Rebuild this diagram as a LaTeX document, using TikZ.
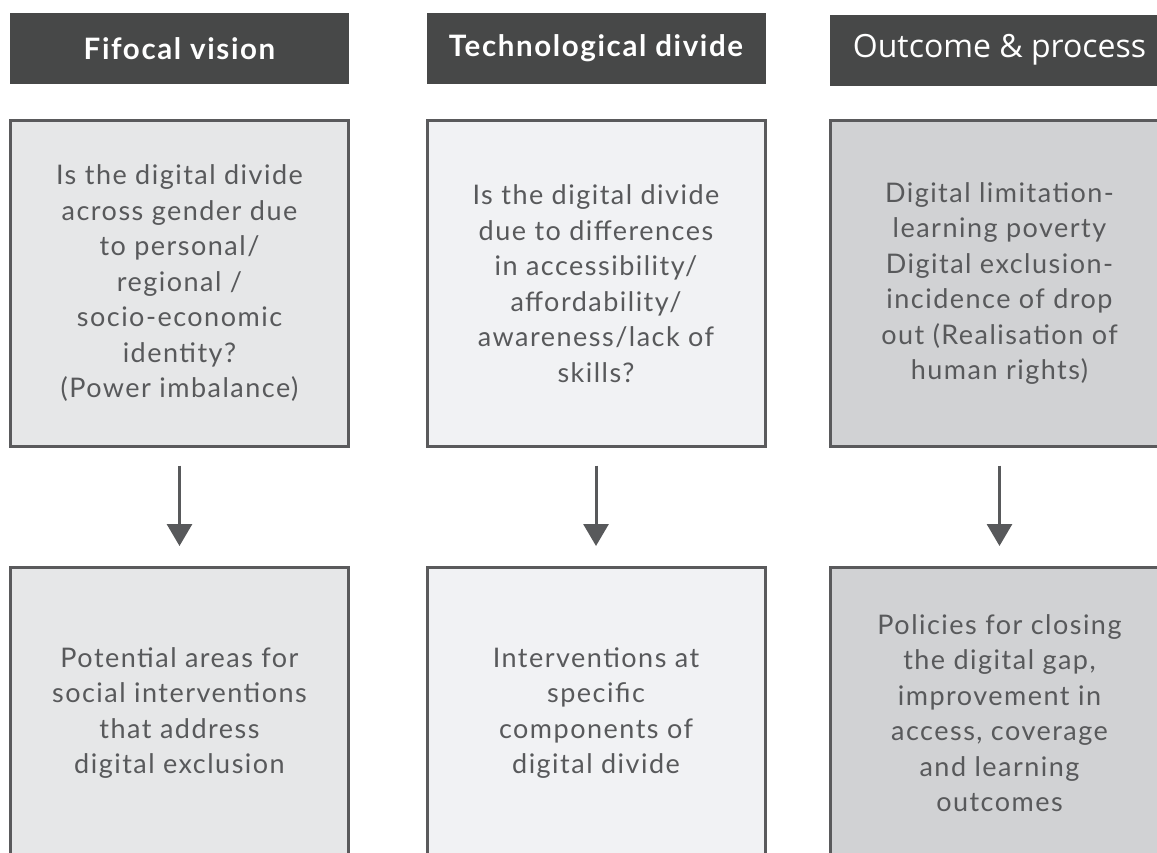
\documentclass[tikz,border=0pt]{standalone}
\usepackage{fontspec}
\setmainfont{Lato}[LetterSpace=5.5]
\newfontfamily\outfont{Open Sans}
\usetikzlibrary{arrows.meta}
\definecolor{headgray}{HTML}{474848}
\definecolor{boxline}{HTML}{5A5A5C}
\definecolor{bodytext}{HTML}{58595B}
\definecolor{fillA}{HTML}{E6E7E8}
\definecolor{fillB}{HTML}{F1F2F4}
\definecolor{fillC}{HTML}{D1D2D4}
\tikzstyle{headbox} = [fill=headgray, text=white, minimum width=339pt,
    minimum height=71pt, inner sep=0pt, font=\fontsize{29.5}{34}\selectfont\bfseries]
\tikzstyle{infobox} = [draw=boxline, line width=3pt, minimum width=338pt,
    inner sep=0pt, align=center, text=bodytext, font=\fontsize{27}{35.5}\selectfont]
\tikzstyle{flowarrow} = [draw=bodytext, line width=3pt,
    -{Triangle[width=25pt,length=22pt]}, shorten <=17.5pt, shorten >=19.5pt]

\begin{document}
\begin{tikzpicture}[x=1pt, y=-1pt]
    \useasboundingbox (0,0) rectangle (1157,852);
    \clip (0,0) rectangle (1157,852);
    % column titles
    \node[headbox] (hFif) at (179.5,48.5) {Fifocal vision};
    \node[headbox] (hTech) at (596,48.5) {Technological divide};
    \node[headbox, font=\outfont\fontsize{32}{36}\selectfont] (hOut) at (999.5,50) {Outcome \& process};
    % questions
    \node[infobox, fill=fillA, minimum height=326pt] (qFif) at (179.5,283.5) {Is the digital divide\\across gender due\\to personal/\\regional /\\socio-economic\\identity?\\(Power imbalance)};
    \node[infobox, fill=fillB, minimum height=326pt] (qTech) at (596,283.5) {Is the digital divide\\due to differences\\in accessibility/\\affordability/\\awareness/lack of\\skills?};
    \node[infobox, fill=fillC, minimum height=326pt] (qOut) at (999.5,283.5) {Digital limitation-\\learning poverty\\Digital exclusion-\\incidence of drop\\out (Realisation of\\human rights)};
    % answers (lower edge runs past the page)
    \node[infobox, fill=fillA, minimum height=292pt, anchor=north] (aFif) at (179.5,565.5) {Potential areas for\\social interventions\\that address\\digital exclusion};
    \node[infobox, fill=fillB, minimum height=292pt, anchor=north] (aTech) at (596,565.5) {Interventions at\\specific\\components of\\digital divide};
    \node[infobox, fill=fillC, minimum height=292pt, anchor=north] (aOut) at (999.5,565.5) {Policies for closing\\the digital gap,\\improvement in\\access, coverage\\and learning\\outcomes};
    % arrows
    \draw[flowarrow] (qFif) -- (aFif);
    \draw[flowarrow] (qTech) -- (aTech);
    \draw[flowarrow] (qOut) -- (aOut);
\end{tikzpicture}
\end{document}
